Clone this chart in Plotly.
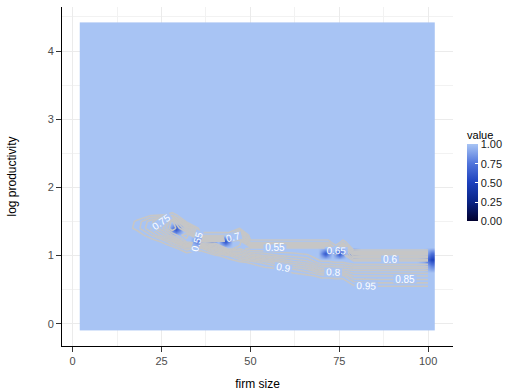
import numpy as np
import plotly.graph_objects as go

# ---- contour field: firm size columns x log-productivity rows ----
size_cols = [14, 18, 22, 26, 28, 32, 36, 40, 44, 47, 50, 54, 58, 62, 66,
             70, 72, 74, 76, 79, 82, 86, 90, 94, 98, 100]
prod_rows = [0.4, 0.5, 0.6, 0.7, 0.8, 0.9, 1.0, 1.1, 1.2, 1.3, 1.4, 1.5, 1.6, 1.7, 1.8]

# one list per firm-size column, values listed from the lowest row upward
value_cols = [
    [1, 1, 1, 1, 1, 1, 1, 1, 1, 1, 1, 1, 1, 1, 1],
    [1, 1, 1, 1, 1, 1, 1, 1, 1, 1, 0.93, 0.94, 1, 1, 1],
    [1, 1, 1, 1, 1, 1, 1, 1, 1, 0.9, 0.8, 0.82, 0.97, 1, 1],
    [1, 1, 1, 1, 1, 1, 1, 1, 0.93, 0.75, 0.62, 0.7, 0.95, 1, 1],
    [1, 1, 1, 1, 1, 1, 1, 1, 0.85, 0.65, 0.5, 0.52, 0.93, 1, 1],
    [1, 1, 1, 1, 1, 1, 1, 0.88, 0.6, 0.5, 0.7, 0.97, 1, 1, 1],
    [1, 1, 1, 1, 1, 1, 1, 0.93, 0.5, 0.92, 1, 1, 1, 1, 1],
    [1, 1, 1, 1, 1, 1, 0.97, 0.75, 0.5, 0.92, 1, 1, 1, 1, 1],
    [1, 1, 1, 1, 1, 1, 0.9, 0.52, 0.5, 0.92, 1, 1, 1, 1, 1],
    [1, 1, 1, 1, 1, 0.97, 0.8, 0.6, 0.5, 0.7, 0.95, 1, 1, 1, 1],
    [1, 1, 1, 1, 1, 0.94, 0.7, 0.5, 0.93, 1, 1, 1, 1, 1, 1],
    [1, 1, 1, 1, 0.98, 0.88, 0.65, 0.5, 0.93, 1, 1, 1, 1, 1, 1],
    [1, 1, 1, 1, 0.96, 0.8, 0.6, 0.5, 0.93, 1, 1, 1, 1, 1, 1],
    [1, 1, 1, 0.99, 0.9, 0.72, 0.58, 0.5, 0.93, 1, 1, 1, 1, 1, 1],
    [1, 1, 1, 0.97, 0.85, 0.68, 0.56, 0.5, 0.93, 1, 1, 1, 1, 1, 1],
    [1, 1, 1, 0.93, 0.72, 0.56, 0.5, 0.5, 0.93, 1, 1, 1, 1, 1, 1],
    [1, 1, 1, 0.93, 0.72, 0.56, 0.5, 0.5, 0.93, 1, 1, 1, 1, 1, 1],
    [1, 1, 1, 0.92, 0.7, 0.55, 0.5, 0.9, 1, 1, 1, 1, 1, 1, 1],
    [1, 1, 1, 0.92, 0.7, 0.55, 0.5, 0.5, 0.93, 1, 1, 1, 1, 1, 1],
    [1, 1, 0.92, 0.8, 0.68, 0.5, 0.72, 1, 1, 1, 1, 1, 1, 1, 1],
    [1, 1, 0.91, 0.8, 0.68, 0.5, 0.72, 1, 1, 1, 1, 1, 1, 1, 1],
    [1, 1, 0.9, 0.8, 0.68, 0.5, 0.72, 1, 1, 1, 1, 1, 1, 1, 1],
    [1, 1, 0.9, 0.8, 0.68, 0.5, 0.72, 1, 1, 1, 1, 1, 1, 1, 1],
    [1, 1, 0.9, 0.8, 0.68, 0.5, 0.72, 1, 1, 1, 1, 1, 1, 1, 1],
    [1, 1, 0.9, 0.8, 0.68, 0.5, 0.72, 1, 1, 1, 1, 1, 1, 1, 1],
    [1, 1, 0.9, 0.8, 0.68, 0.5, 0.72, 1, 1, 1, 1, 1, 1, 1, 1],
]

# ---- raster layer: extent of the grid and the cells that fall below 1 ----
raster_x_extent = [2.0, 102.0]
raster_y_extent = [-0.1, 4.42]
raster_low = [
    (29, 1.39, 0.58),
    (35, 1.25, 0.75),
    (39, 1.25, 0.75),
    (43, 1.20, 0.58),
    (71, 1.0, 0.6),
    (75, 1.0, 0.58),
    (79, 1.0, 0.6),
    (99, 0.93, 0.85),
    (101, 0.93, 0.5),
    (101, 1.02, 0.72),
    (101, 0.84, 0.8),
]

contour_levels = dict(start=0.55, end=0.95, size=0.05)
x_ticks = [0, 25, 50, 75, 100]
y_ticks = [0, 1, 2, 3, 4]
bar_ticks = [0, 0.25, 0.5, 0.75, 1.0]

blues = [
    [0.0, "#00002e"],
    [0.25, "#0a2486"],
    [0.5, "#1c40bd"],
    [0.75, "#5276dc"],
    [1.0, "#a8c4f4"],
]

z_contour = np.array(value_cols, dtype=float).T

# regular raster grid: 50 x 50 cells covering the extent
n_cells = 50
dx = (raster_x_extent[1] - raster_x_extent[0]) / n_cells
dy = (raster_y_extent[1] - raster_y_extent[0]) / n_cells
x0 = raster_x_extent[0] + dx / 2
y0 = raster_y_extent[0] + dy / 2
z_raster = np.ones((n_cells, n_cells))
for sx, sy, sv in raster_low:
    i = int(round((sx - x0) / dx))
    j = int(round((sy - y0) / dy))
    z_raster[j, i] = sv

font_family = "Liberation Sans, Arial, sans-serif"

fig = go.Figure()

fig.add_trace(go.Heatmap(
    x0=x0, dx=dx, y0=y0, dy=dy, z=z_raster,
    zmin=0, zmax=1, zsmooth="best",
    colorscale=blues,
    hoverinfo="skip",
    colorbar=dict(
        title=dict(text="value", side="top", font=dict(size=11, color="#000000", family=font_family)),
        x=1.036, xanchor="left", xpad=0,
        y=0.506, yanchor="middle", ypad=0,
        len=94, lenmode="pixels",
        thickness=11, thicknessmode="pixels",
        outlinewidth=0,
        tickvals=bar_ticks, tickformat=".2f",
        ticks="inside", ticklen=3, tickcolor="#ffffff", tickwidth=1,
        tickfont=dict(size=11, color="#1a1a1a", family=font_family),
    ),
))

fig.add_trace(go.Contour(
    x=size_cols, y=prod_rows, z=z_contour,
    autocontour=False,
    contours=dict(
        start=contour_levels["start"], end=contour_levels["end"], size=contour_levels["size"],
        coloring="none", showlabels=True,
        labelfont=dict(size=10, color="#ffffff", family=font_family),
        labelformat=".2~f",
    ),
    line=dict(color="#c6c6c6", width=1.6, smoothing=0),
    showscale=False,
    hoverinfo="skip",
))

axis_common = dict(
    showline=True, linecolor="#000000", linewidth=1,
    ticks="outside", ticklen=5, tickcolor="#333333", tickwidth=1,
    tickfont=dict(size=11, color="#4d4d4d", family=font_family),
    showgrid=True, gridcolor="#ebebeb", gridwidth=1,
    zeroline=False, automargin=False,
)

fig.update_layout(
    width=515, height=391,
    margin=dict(l=62, r=62, t=7, b=45),
    paper_bgcolor="#ffffff", plot_bgcolor="#ffffff",
    font=dict(family=font_family),
    showlegend=False,
    xaxis=dict(
        axis_common,
        range=[-3.0, 107.0],
        tickvals=x_ticks,
        minor=dict(showgrid=True, gridcolor="#f2f2f2", gridwidth=0.6, tickvals=[12.5, 37.5, 62.5, 87.5]),
        title=dict(text="firm size", font=dict(size=12, color="#000000"), standoff=14),
    ),
    yaxis=dict(
        axis_common,
        range=[-0.326, 4.646],
        tickvals=y_ticks,
        minor=dict(showgrid=True, gridcolor="#f2f2f2", gridwidth=0.6, tickvals=[0.5, 1.5, 2.5, 3.5, 4.5]),
        title=dict(text="log productivity", font=dict(size=12, color="#000000"), standoff=28),
    ),
)

fig.write_html("out.html")
